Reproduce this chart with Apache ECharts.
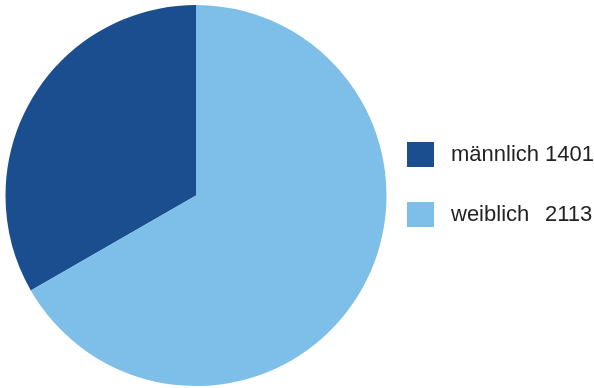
<!DOCTYPE html>
<html><head><meta charset="utf-8">
<script src="https://cdn.jsdelivr.net/npm/echarts@6/dist/echarts.min.js"></script>
<style>html,body{margin:0;padding:0;background:#fff}#c{width:594px;height:388px}</style>
</head><body><div id="c"></div>
<script>
const categories = ['männlich', 'weiblich'];
const legendValues = [1401, 2113];
// slice sizes as drawn in the picture (angle shares)
const sliceShares = [33.3, 66.7];
const colors = ['#1b4e8e', '#7dbfe9'];

const chart = echarts.init(document.getElementById('c'), null, {renderer: 'canvas'});
chart.setOption({
  animation: false,
  legend: {
    orient: 'vertical', left: 407, top: 142, padding: 0,
    itemWidth: 27, itemHeight: 25, itemGap: 35,
    icon: 'rect',
    data: categories,
    formatter: function (name) {
      const i = categories.indexOf(name);
      return '{n|' + name + '}{v|' + legendValues[i] + '}';
    },
    textStyle: {
      rich: {
        n: {fontFamily: 'Liberation Sans Narrow, Arial Narrow, Liberation Sans, sans-serif', fontSize: 22, color: '#222', width: 94, padding: [0, 0, 0, 12]},
        v: {fontFamily: 'Liberation Sans Narrow, Arial Narrow, Liberation Sans, sans-serif', fontSize: 22, color: '#222'}
      }
    }
  },
  series: [{
    type: 'pie',
    center: [196, 195.5],
    radius: 190.5,
    startAngle: 90,
    clockwise: false,
    label: {show: false},
    labelLine: {show: false},
    emphasis: {disabled: true},
    itemStyle: {borderWidth: 0},
    data: categories.map((n, i) => ({name: n, value: sliceShares[i], itemStyle: {color: colors[i]}}))
  }]
});
</script></body></html>
